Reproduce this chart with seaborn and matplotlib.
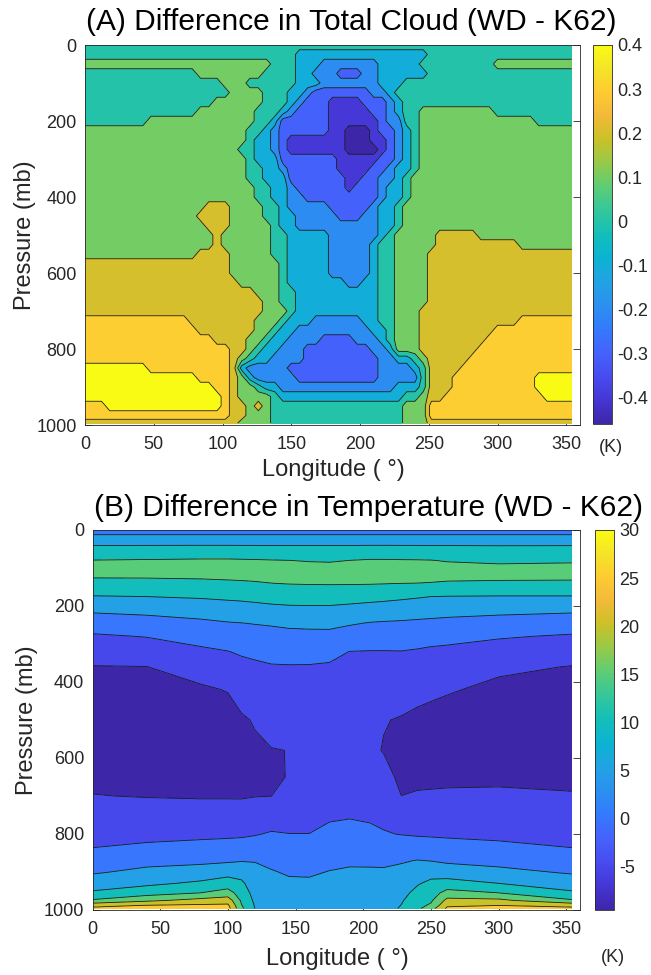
import numpy as np
import matplotlib
matplotlib.use("Agg")
import matplotlib.pyplot as plt
from matplotlib.colors import LinearSegmentedColormap, Normalize
from matplotlib.cm import ScalarMappable
import seaborn as sns

sns.set_theme(style="white")
plt.rcParams['font.family'] = ['Liberation Sans', 'DejaVu Sans']
plt.rcParams['axes.unicode_minus'] = False
plt.rcParams['contour.negative_linestyle'] = 'solid'

# ---------------- Panel A : difference in total cloud ----------------
cloud_lon = list(range(0, 355, 6))                 # 60 grid longitudes
cloud_p = list(range(0, 1000, 25)) + [995]         # 41 pressure levels
# band read at each grid point: 0:<-0.4 1:-0.4..-0.3 2:-0.3..-0.2 3:-0.2..-0.1 4:-0.1..0
# 5:0..0.1 6:0.1..0.2 7:0.2..0.3 8:0.3..0.4 9:>0.4  ("band:count" run lengths along longitude)
cloud_band_rows = [
    "5:60",
    "5:26 4:16 5:18",
    "6:23 5:3 4:3 3:7 4:5 5:9 6:10",
    "5:14 6:8 5:4 4:2 3:3 2:3 3:2 4:6 5:18",
    "5:17 6:3 5:6 4:3 3:7 4:3 5:21",
    "5:18 6:4 5:3 4:2 3:1 2:7 3:2 4:1 5:22",
    "5:16 6:6 5:3 4:1 3:1 2:3 1:4 2:3 3:1 4:1 5:21",
    "5:14 6:7 5:3 4:1 3:1 2:4 1:5 2:2 3:1 4:1 5:2 6:9 5:10",
    "5:8 6:13 5:2 4:1 2:6 1:6 2:1 3:2 5:2 6:14 5:5",
    "6:20 5:2 4:1 3:1 2:6 1:2 0:3 1:1 2:2 3:1 4:1 5:1 6:19",
    "6:20 5:1 4:2 3:1 2:1 1:7 0:3 1:2 2:1 3:1 4:1 5:1 6:19",
    "6:19 5:2 4:2 3:1 2:1 1:7 0:4 1:1 2:1 3:1 4:1 5:1 6:19",
    "6:20 5:1 4:3 2:7 1:5 2:2 3:1 4:1 5:1 6:19",
    "6:20 5:2 4:2 3:1 2:6 1:4 2:2 3:1 4:2 5:1 6:19",
    "6:20 5:2 4:3 2:7 1:2 2:2 3:2 4:1 5:1 6:20",
    "6:21 5:2 4:2 3:1 2:6 1:1 2:3 3:1 4:2 5:1 6:20",
    "6:21 5:2 4:2 3:2 2:9 3:1 4:2 5:1 6:20",
    "6:15 7:3 6:4 5:2 4:1 3:5 2:5 3:1 4:2 5:1 6:21",
    "6:14 7:4 6:4 5:2 4:2 3:5 2:3 3:2 4:2 5:1 6:21",
    "6:15 7:3 6:5 5:1 4:2 3:10 4:2 5:1 6:21",
    "6:16 7:1 6:6 5:2 4:5 3:6 4:1 5:1 6:5 7:5 6:12",
    "6:16 7:1 6:6 5:2 4:5 3:5 4:1 5:2 6:5 7:10 6:7",
    "6:14 7:4 6:5 5:2 4:5 3:5 4:1 5:2 6:4 7:18",
    "7:18 6:6 5:1 4:5 3:5 4:1 5:2 6:4 7:18",
    "7:18 6:6 5:1 4:5 3:5 4:1 5:2 6:4 7:18",
    "7:19 6:5 5:1 4:7 3:2 4:2 5:2 6:4 7:18",
    "7:21 6:3 5:2 4:10 5:2 6:4 7:18",
    "7:22 6:2 5:2 4:10 5:2 6:4 7:18",
    "7:22 6:3 5:1 4:10 5:2 6:3 7:19",
    "8:13 7:8 6:3 5:1 4:3 3:6 4:2 5:2 6:3 7:12 8:7",
    "8:14 7:7 6:2 5:1 4:2 3:9 4:2 5:1 6:3 7:9 8:10",
    "8:16 7:4 6:2 5:1 4:2 3:4 2:4 3:3 4:1 5:1 6:3 7:8 8:11",
    "8:18 7:2 6:1 5:1 4:2 3:3 2:8 3:2 4:1 6:3 7:7 8:12",
    "8:18 7:1 6:1 5:1 4:2 3:4 2:9 3:2 4:2 5:1 6:1 7:5 8:13",
    "9:8 8:10 7:1 4:1 3:5 2:11 3:4 4:1 5:1 7:4 8:14",
    "9:14 8:4 7:1 6:1 4:1 3:5 2:10 3:5 5:1 7:3 8:10 9:5",
    "9:16 8:2 7:1 6:2 5:1 4:2 3:14 4:3 5:1 7:3 8:10 9:5",
    "9:17 8:1 7:1 6:4 5:1 4:15 5:2 6:1 7:2 8:12 9:4",
    "8:3 9:14 8:1 7:2 6:1 7:1 6:1 5:16 6:3 8:18",
    "8:18 7:2 6:3 5:16 6:3 8:18",
    "7:19 6:4 5:16 6:3 7:18",
]
cloud_band_value = [-0.45, -0.35, -0.25, -0.15, -0.05, 0.05, 0.15, 0.25, 0.35, 0.45]
cloud_levels = [-0.4, -0.3, -0.2, -0.1, 0.0, 0.1, 0.2, 0.3, 0.4]
cloud_clim = (-0.459, 0.4)
cloud_ticks = [-0.4, -0.3, -0.2, -0.1, 0.0, 0.1, 0.2, 0.3, 0.4]
cloud_ticklabels = ['-0.4', '-0.3', '-0.2', '-0.1', '0', '0.1', '0.2', '0.3', '0.4']

# ---------------- Panel B : difference in temperature ----------------
temp_lon = [0, 40, 80, 100, 110, 120, 132, 145, 160, 175, 190, 205, 215, 228, 240, 250, 262, 300, 354]
temp_p = [0, 20, 45, 80, 110, 140, 175, 210, 245, 280, 320, 360, 420, 500, 580, 650,
          700, 750, 800, 840, 870, 900, 930, 955, 975, 988, 996]
temp_diff = [
    [2.8] * 19,
    [6.35] * 19,
    [10.75, 10.8, 10.85, 10.85, 10.8, 10.8, 10.75, 10.75, 10.7, 10.7, 10.75, 10.85, 10.85, 10.8, 10.8, 10.75, 10.7, 10.6, 10.65],
    [15.1, 15.3, 15.5, 15.5, 15.4, 15.3, 15.15, 15.02, 14.8, 14.65, 15.02, 15.35, 15.35, 15.25, 15.2, 15.1, 14.75, 14.0, 14.45],
    [16.6, 16.6, 16.65, 16.75, 16.65, 16.6, 16.7, 16.6, 16.6, 16.8, 16.8, 16.75, 16.75, 16.9, 16.8, 16.85, 16.8, 17.3, 17.0],
    [13.6, 13.7, 14.0, 14.3, 14.5, 14.7, 14.98, 15.2, 15.3, 15.35, 15.35, 15.3, 15.2, 15.05, 14.98, 14.85, 14.6, 14.25, 14.25],
    [9.8, 10.02, 10.5, 10.9, 11.1, 11.4, 11.8, 12.1, 12.2, 12.2, 11.95, 11.6, 11.3, 10.85, 10.4, 10.02, 9.9, 9.8, 9.8],
    [5.8, 6.3, 7.1, 7.7, 7.9, 8.25, 8.65, 8.9, 8.95, 8.95, 8.5, 8.0, 7.75, 7.4, 7.1, 6.9, 6.65, 6.2, 5.8],
    [2.35, 3.1, 4.1, 4.75, 4.95, 5.2, 5.45, 5.85, 6.05, 6.2, 5.45, 4.8, 4.6, 4.45, 4.2, 4.0, 3.75, 3.2, 2.45],
    [-0.6, 0.15, 1.7, 2.45, 2.85, 3.1, 3.45, 3.7, 3.75, 3.65, 2.8, 2.25, 2.25, 2.25, 1.85, 1.45, 1.2, 0.4, -0.5],
    [-3.1, -2.5, -0.85, -0.1, 0.5, 0.85, 1.35, 1.6, 1.45, 1.0, -0.05, -0.15, -0.15, -0.1, -0.4, -0.7, -0.9, -1.95, -3.05],
    [-5.15, -5.05, -3.1, -2.0, -1.15, -0.7, -0.3, -0.25, -0.25, -0.4, -0.7, -0.9, -1.2, -1.3, -1.7, -2.05, -2.4, -4.2, -5.15],
    [-6.2, -6.2, -5.6, -4.8, -3.3, -2.4, -1.7, -1.65, -1.3, -1.4, -1.65, -2.0, -2.75, -3.1, -3.65, -4.1, -4.6, -6.0, -6.2],
    [-7.65, -7.8, -7.4, -6.7, -5.5, -4.7, -3.5, -3.4, -2.75, -2.7, -2.95, -3.5, -4.8, -5.3, -6.0, -6.4, -6.85, -7.75, -7.65],
    [-7.0, -7.2, -7.55, -7.6, -6.65, -5.6, -5.15, -4.95, -3.5, -3.35, -3.5, -4.2, -5.2, -6.8, -7.55, -7.55, -7.5, -7.0, -6.95],
    [-5.8, -6.0, -6.2, -6.3, -5.95, -5.45, -5.3, -4.92, -2.4, -2.2, -2.2, -2.75, -3.55, -5.9, -5.95, -5.9, -5.8, -5.65, -5.75],
    [-4.9, -5.15, -5.3, -5.3, -5.3, -5.1, -5.03, -3.3, -1.6, -1.35, -1.3, -1.7, -2.3, -4.98, -4.6, -4.5, -4.4, -4.4, -4.75],
    [-3.1, -3.25, -3.3, -3.3, -3.4, -3.0, -2.4, -1.6, -0.8, -0.5, -0.35, -0.65, -1.1, -2.6, -2.5, -2.55, -2.5, -2.65, -3.05],
    [-1.35, -1.2, -0.95, -0.8, -0.7, -0.3, 0.4, 0.05, 0.02, 0.85, 1.35, 0.9, 0.3, -0.15, -0.45, -0.55, -0.65, -0.9, -1.3],
    [0.15, 0.95, 1.6, 1.95, 2.25, 2.55, 2.45, 1.85, 1.8, 2.6, 3.1, 2.9, 2.6, 2.55, 2.55, 2.25, 1.8, 1.1, 0.15],
    [2.3, 3.5, 4.0, 4.35, 4.75, 4.8, 4.0, 3.2, 3.1, 3.9, 4.45, 4.4, 4.3, 4.6, 5.15, 4.85, 4.2, 3.45, 2.3],
    [4.45, 6.15, 7.0, 8.15, 8.0, 6.1, 5.3, 4.55, 4.45, 5.15, 5.45, 5.45, 5.45, 6.1, 7.4, 8.25, 7.5, 6.25, 4.45],
    [7.5, 9.05, 10.85, 12.4, 10.9, 7.25, 6.15, 5.7, 5.65, 6.05, 6.25, 6.25, 6.25, 7.5, 9.6, 11.05, 11.8, 10.02, 7.5],
    [10.7, 12.9, 15.05, 16.95, 12.75, 8.25, 6.85, 6.55, 6.55, 6.8, 6.9, 6.9, 6.9, 8.6, 11.3, 12.85, 16.75, 15.02, 10.7],
    [15.6, 19.1, 21.7, 22.8, 14.25, 9.05, 7.4, 7.25, 7.25, 7.4, 7.45, 7.45, 7.45, 9.55, 12.6, 14.3, 21.45, 21.2, 15.6],
    [23.75, 25.2, 25.8, 25.85, 15.3, 9.6, 7.8, 7.7, 7.7, 7.75, 7.8, 7.8, 7.8, 10.1, 13.5, 15.8, 24.2, 25.02, 23.75],
    [26.0, 27.0, 28.0, 27.0, 16.0, 9.9, 8.0, 8.0, 8.0, 8.0, 8.0, 8.0, 8.0, 10.5, 14.0, 18.0, 26.0, 26.5, 26.0],
]
temp_levels = [-5, 0, 5, 10, 15, 20, 25]
temp_clim = (-9.5, 30.0)
temp_ticks = [-5, 0, 5, 10, 15, 20, 25, 30]

# ---------------- parula-like colormap ----------------
parula_pos = [0, 16, 32, 48, 64, 80, 96, 112, 128, 144, 160, 176, 192, 208, 224, 240, 255]
parula_rgb = [
    (0.2422, 0.1504, 0.6603), (0.2704, 0.2138, 0.8346), (0.2813, 0.2985, 0.9397),
    (0.2710, 0.3860, 0.9898), (0.2006, 0.4803, 0.9906), (0.1716, 0.5655, 0.9393),
    (0.1288, 0.6408, 0.8910), (0.0433, 0.7039, 0.8242), (0.0770, 0.7468, 0.7224),
    (0.2061, 0.7808, 0.6065), (0.3671, 0.8021, 0.4563), (0.5886, 0.7913, 0.2833),
    (0.7945, 0.7554, 0.1570), (0.9523, 0.7284, 0.2237), (0.9938, 0.7974, 0.1974),
    (0.9601, 0.8963, 0.1507), (0.9769, 0.9839, 0.0805),
]
parula = LinearSegmentedColormap.from_list(
    "parula", list(zip([p / 255 for p in parula_pos], parula_rgb)), N=256)


def decode(row, n=60):
    vals = []
    for tok in row.split():
        d, c = tok.split(':')
        vals += [cloud_band_value[int(d)]] * int(c)
    vals = (vals + [vals[-1]] * n)[:n]
    return vals


W, H = 651, 975
fig = plt.figure(figsize=(W / 100, H / 100), dpi=100)


def rect(x0, y0, x1, y1):
    return [x0 / W, 1 - y1 / H, (x1 - x0) / W, (y1 - y0) / H]


axA = fig.add_axes(rect(85, 45, 580, 425))
caxA = fig.add_axes(rect(593, 45, 612, 424))
axB = fig.add_axes(rect(92.5, 530, 580, 910))
caxB = fig.add_axes(rect(595, 530, 614, 910))

edge = '#262626'

# Panel A
ZA = np.array([decode(r) for r in cloud_band_rows])
normA = Normalize(*cloud_clim)
fillA = [-0.5] + cloud_levels + [0.5]
colsA = [parula(0.0)] + [parula(normA(l)) for l in cloud_levels]
axA.contourf(cloud_lon, cloud_p, ZA, levels=fillA, colors=colsA)
axA.contour(cloud_lon, cloud_p, ZA, levels=cloud_levels, colors='k', linewidths=0.6,
            linestyles='solid')

# Panel B
ZB = np.array(temp_diff)
normB = Normalize(*temp_clim)
fillB = [-10] + temp_levels + [30]
colsB = [parula(0.0)] + [parula(normB(l)) for l in temp_levels]
axB.contourf(temp_lon, temp_p, ZB, levels=fillB, colors=colsB)
axB.contour(temp_lon, temp_p, ZB, levels=temp_levels, colors='k', linewidths=0.6,
            linestyles='solid')

for ax in (axA, axB):
    ax.set_facecolor('white')
    ax.set_xlim(0, 360)
    ax.set_ylim(1000, 0)
    ax.set_xticks(range(0, 360, 50))
    ax.set_yticks(range(0, 1001, 200))
    ax.tick_params(direction='in', bottom=True, left=True, top=True, right=True,
                   length=5, width=0.6, color=edge, labelcolor=edge, labelsize=13)
    ax.tick_params(axis='x', pad=8)
    ax.tick_params(axis='y', pad=6)
    for s in ax.spines.values():
        s.set_color(edge)
        s.set_linewidth(0.6)
    ax.set_xlabel('')
    ax.set_ylabel('')

# Colorbars
cbA = fig.colorbar(ScalarMappable(norm=normA, cmap=parula), cax=caxA)
cbA.set_ticks(cloud_ticks)
cbA.set_ticklabels(cloud_ticklabels)
cbB = fig.colorbar(ScalarMappable(norm=normB, cmap=parula), cax=caxB)
cbB.set_ticks(temp_ticks)
cbB.set_ticklabels([str(t) for t in temp_ticks])
for cb, cax in ((cbA, caxA), (cbB, caxB)):
    cax.tick_params(direction='in', right=True, left=False, length=4, width=0.6,
                    color=edge, labelcolor=edge, labelsize=13, pad=4)
    cb.outline.set_edgecolor(edge)
    cb.outline.set_linewidth(0.6)

# Texts
fig.text(351 / W, 1 - 22 / H, '(A) Difference in Total Cloud (WD - K62)',
         ha='center', va='center', fontsize=21.5, color='black')
fig.text(368 / W, 1 - 508 / H, '(B) Difference in Temperature (WD - K62)',
         ha='center', va='center', fontsize=21.5, color='black')
fig.text(333 / W, 1 - 470 / H, 'Longitude ( °)', ha='center', va='center', fontsize=17, color=edge)
fig.text(337 / W, 1 - 959 / H, 'Longitude ( °)', ha='center', va='center', fontsize=17, color=edge)
fig.text(25 / W, 1 - 235 / H, 'Pressure (mb)', ha='center', va='center', rotation=90,
         fontsize=17, color=edge)
fig.text(27 / W, 1 - 720 / H, 'Pressure (mb)', ha='center', va='center', rotation=90,
         fontsize=17, color=edge)
fig.text(611 / W, 1 - 448 / H, '(K)', ha='center', va='center', fontsize=13, color=edge)
fig.text(613 / W, 1 - 958 / H, '(K)', ha='center', va='center', fontsize=13, color=edge)

fig.savefig('out.png', dpi=100)
